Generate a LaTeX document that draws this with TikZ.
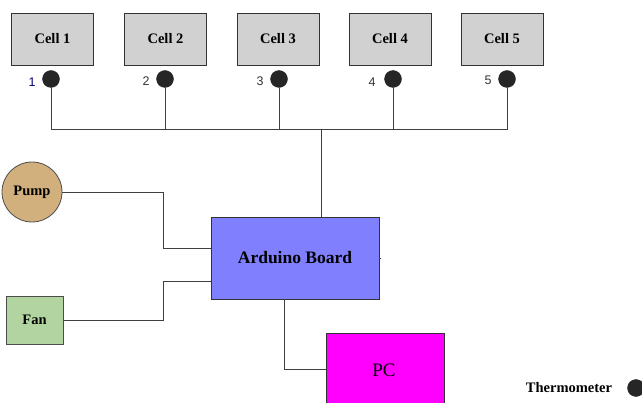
\documentclass[tikz,border=0pt]{standalone}
\usepackage{fontspec}
\setmainfont{Liberation Serif}
\newfontfamily\numfont{Liberation Sans}
\definecolor{pcmag}{RGB}{255,0,255}
\definecolor{ardblue}{RGB}{128,128,255}
\definecolor{pumptan}{RGB}{210,176,125}
\definecolor{fangreen}{RGB}{178,212,160}
\begin{document}
\begin{tikzpicture}[x=1pt,y=-1pt,
  wire/.style={draw=black!75,line width=0.8pt},
  cellbox/.style={draw=black!80,fill=black!18,line width=0.8pt,minimum width=82pt,minimum height=52pt,inner sep=0pt,font=\fontsize{14.5}{16}\selectfont\bfseries},
  thermo/.style={circle,fill=black!85,draw=black!85,minimum size=17pt,inner sep=0pt},
  numlbl/.style={font=\numfont\fontsize{12.5}{14}\selectfont,text=black!80,inner sep=0pt}]
\useasboundingbox (0,0) rectangle (642,403);
% cells
\foreach \i/\x in {1/52.5,2/165.5,3/278,4/390,5/502}{
  \node[cellbox] (cell\i) at (\x,39) {Cell \i};
}
% thermometers
\node[thermo] (t1) at (51,79) {};
\node[thermo] (t2) at (165,79) {};
\node[thermo] (t3) at (279,79) {};
\node[thermo] (t4) at (393,79) {};
\node[thermo] (t5) at (507,79) {};
\node[numlbl,text=blue!50!black] (n1) at (32,82) {1};
\node[numlbl] (n2) at (146,81) {2};
\node[numlbl] (n3) at (260,81) {3};
\node[numlbl] (n4) at (372,82) {4};
\node[numlbl] (n5) at (488,80) {5};
% arduino
\node[draw=black!80,fill=ardblue,line width=0.8pt,minimum width=168pt,minimum height=82pt,inner sep=0pt,font=\fontsize{17.5}{19}\selectfont\bfseries] (ard) at (295,258) {Arduino Board};
% pump, fan, pc
\node[circle,draw=black!70,fill=pumptan,minimum size=60pt,inner sep=0pt,line width=0.8pt,font=\fontsize{14.5}{16}\selectfont\bfseries] (pump) at (32,192) {Pump};
\node[draw=black!70,fill=fangreen,minimum width=57pt,minimum height=48pt,inner sep=0pt,line width=0.8pt,font=\fontsize{14.5}{16}\selectfont\bfseries] (fan) at (34.5,320) {Fan};
\node[draw=black!80,fill=pcmag,minimum width=118pt,minimum height=72pt,inner sep=0pt,line width=0.8pt] (pc) at (385,369) {};
\node[inner sep=0pt,font=\fontsize{19}{21}\selectfont] (pclbl) at (384,370) {PC};
% legend
\node[inner sep=0pt,font=\fontsize{14.5}{16}\selectfont\bfseries] (leg) at (569,388) {Thermometer};
\node[thermo] (tleg) at (636,388) {};
% bus
\coordinate (b1) at (51,129);
\coordinate (b5) at (507,129);
\coordinate (bj) at (321,129);
\draw[wire] (t1.south) -- (b1) -- (b5) -- (t5.south);
\draw[wire] (t2.south) -- (t2.south |- b1);
\draw[wire] (t3.south) -- (t3.south |- b1);
\draw[wire] (t4.south) -- (t4.south |- b1);
\draw[wire] (bj) -- (bj |- ard.north);
% pump and fan
\coordinate (pk) at (163,192);
\draw[wire] (pump.east) -- (pk) -- (163,248) -- (ard.west |- 0,248);
\draw[wire] (fan.east) -- (163,320) -- (163,281) -- (ard.west |- 0,281);
% pc
\draw[wire] (ard.south -| 284,0) -- (284,369) -- (pc.west);
% stub
\draw[wire] (ard.east |- 0,258) -- ++(2,0);
\end{tikzpicture}
\end{document}
